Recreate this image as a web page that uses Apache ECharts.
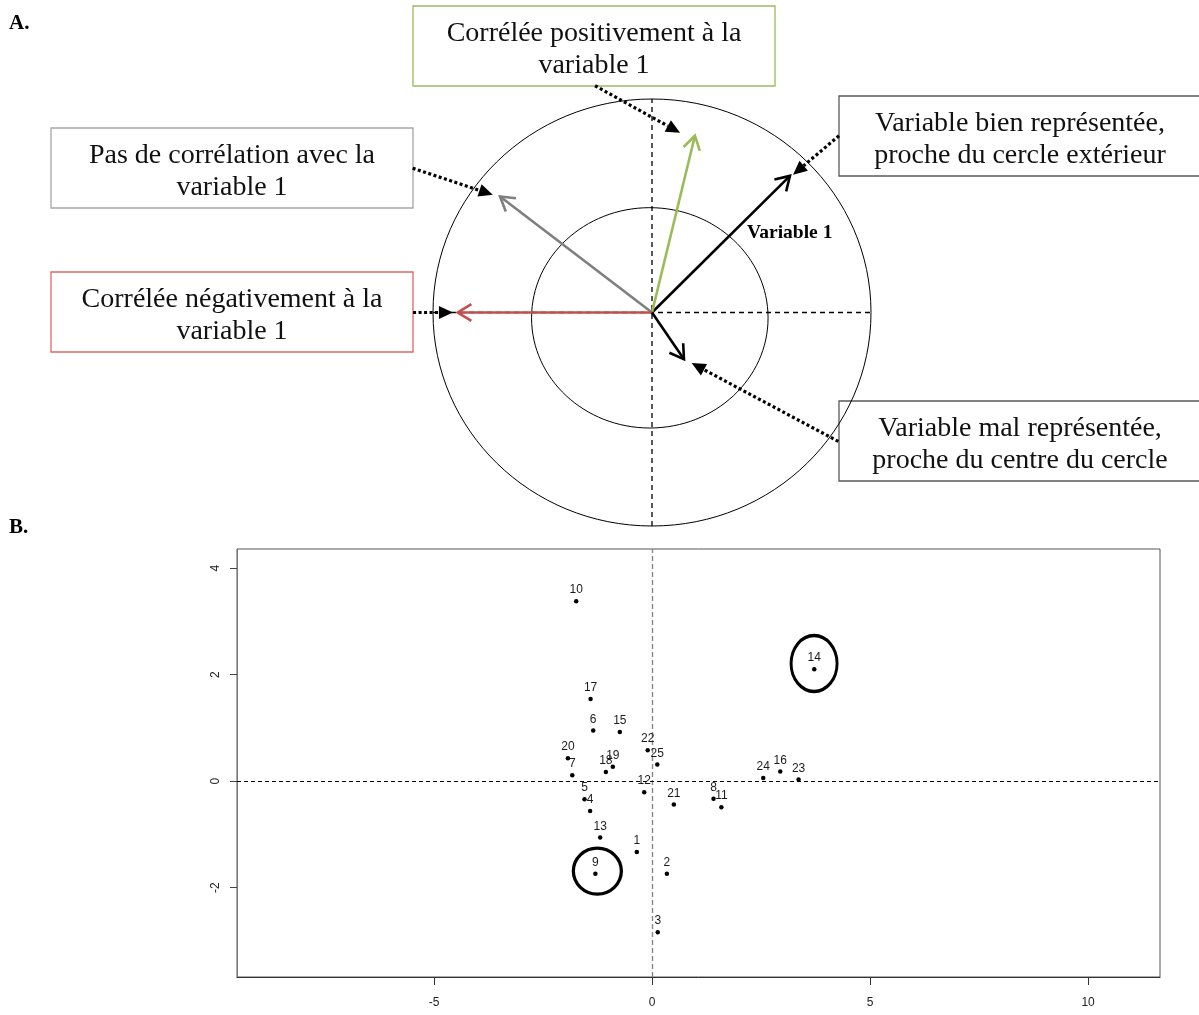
<!DOCTYPE html>
<html>
<head>
<meta charset="utf-8">
<script src="https://cdn.jsdelivr.net/npm/echarts@6/dist/echarts.min.js"></script>
<style>
html,body{margin:0;padding:0;background:#fff;}
#chart{width:1199px;height:1015px;}
</style>
</head>
<body>
<div id="chart"></div>
<script>
// ---------- Panel A: correlation circle (units: correlation) ----------
const circleCx = [0, -0.01];
const circleCy = [0, -0.025];
const circleRx = [1, 0.54];
const circleRy = [1, 0.516];

const vectorNames = ['Variable 1', 'positive', 'none', 'negative', 'poor'];
const vectorX = [0.63, 0.196, -0.694, -0.887, 0.146];
const vectorY = [0.64, 0.828, 0.543, 0.0, -0.219];

const pointerFromX = [-0.26, -1.093, -1.091, 0.854, 0.851];
const pointerFromY = [1.062, 0.676, 0.0, 0.828, -0.604];
const pointerToX = [0.128, -0.727, -0.909, 0.644, 0.181];
const pointerToY = [0.842, 0.551, 0.0, 0.645, -0.237];

const boxTexts = [
  'Corrélée positivement à la\nvariable 1',
  'Pas de corrélation avec la\nvariable 1',
  'Corrélée négativement à la\nvariable 1',
  'Variable bien représentée,\nproche du cercle extérieur',
  'Variable mal représentée,\nproche du centre du cercle'
];

// ---------- Panel B: individuals ----------
const obsLabels = ['1','2','3','4','5','6','7','8','9','10','11','12','13','14','15','16','17','18','19','20','21','22','23','24','25'];
const obsX = [-0.35, 0.34, 0.13, -1.42, -1.55, -1.35, -1.83, 1.41, -1.30, -1.74, 1.59, -0.18, -1.19, 3.72, -0.74, 2.94, -1.41, -1.06, -0.90, -1.93, 0.50, -0.10, 3.36, 2.55, 0.12];
const obsY = [-1.33, -1.74, -2.84, -0.56, -0.34, 0.95, 0.11, -0.33, -1.74, 3.38, -0.49, -0.21, -1.06, 2.10, 0.92, 0.18, 1.54, 0.17, 0.27, 0.43, -0.44, 0.58, 0.03, 0.06, 0.31];
const xTicks = [-5, 0, 5, 10];
const yTicks = [-2, 0, 2, 4];
const highlightX = [-1.255, 3.716];
const highlightY = [-1.69, 2.21];

// ---------- styles ----------
const vectorColors = ['#000000', '#9bbb59', '#7f7f7f', '#c0504d', '#000000'];
const boxStroke = ['#9bbb59', '#a6a6a6', '#e06666', '#595959', '#595959'];
const boxLayout = [
  {x: 413, y: 6, w: 362, h: 80},
  {x: 51, y: 128, w: 362, h: 80},
  {x: 51, y: 272, w: 362, h: 80},
  {x: 839, y: 96, w: 364, h: 80},
  {x: 839, y: 401, w: 364, h: 80}
];
const serif = '"Liberation Serif", "Times New Roman", serif';
const sans = '"Liberation Sans", Arial, sans-serif';

const chart = echarts.init(document.getElementById('chart'), null, {renderer: 'canvas'});

const graphics = [];
boxTexts.forEach((t, i) => {
  const b = boxLayout[i];
  graphics.push({
    type: 'group', z: 50,
    children: [
      {type: 'rect', shape: {x: b.x, y: b.y, width: b.w, height: b.h},
        style: {fill: '#fff', stroke: boxStroke[i], lineWidth: 1.3}},
      {type: 'text', x: b.x + b.w / 2 + (i >= 3 ? -1 : 0), y: b.y + b.h / 2 + 4,
        style: {text: t, font: '28px ' + serif, fill: '#111', align: 'center', verticalAlign: 'middle', lineHeight: 32}}
    ]
  });
});
graphics.push({type: 'text', left: 9, top: 13, z: 50, style: {text: 'A.', font: 'bold 21px ' + serif, fill: '#000'}});
graphics.push({type: 'text', left: 9, top: 517, z: 50, style: {text: 'B.', font: 'bold 21px ' + serif, fill: '#000'}});

function arrowHeadOpen(t, o, L, a) {
  const ang = Math.atan2(t[1] - o[1], t[0] - o[0]);
  return [
    [t[0] - L * Math.cos(ang - a), t[1] - L * Math.sin(ang - a)],
    t,
    [t[0] - L * Math.cos(ang + a), t[1] - L * Math.sin(ang + a)]
  ];
}

const option = {
  animation: false,
  backgroundColor: '#fff',
  graphic: graphics,
  grid: [
    {left: 433, top: 99, width: 438, height: 427, show: false},
    {left: 237, top: 549, width: 923, height: 428, show: true, borderColor: '#555', borderWidth: 1, backgroundColor: 'transparent'}
  ],
  xAxis: [
    {gridIndex: 0, type: 'value', min: -1, max: 1, show: false},
    {gridIndex: 1, type: 'value', min: -9.52, max: 11.65,
      axisLine: {show: true, onZero: false, lineStyle: {color: '#333', width: 1}},
      axisTick: {show: true, length: 8, customValues: xTicks, lineStyle: {color: '#333'}},
      axisLabel: {customValues: xTicks, margin: 20, color: '#222', fontSize: 12, fontFamily: sans},
      splitLine: {show: false}}
  ],
  yAxis: [
    {gridIndex: 0, type: 'value', min: -1, max: 1, show: false},
    {gridIndex: 1, type: 'value', min: -3.68, max: 4.36,
      axisLine: {show: true, onZero: false, lineStyle: {color: '#777', width: 1}},
      axisTick: {show: true, length: 7, customValues: yTicks, lineStyle: {color: '#444'}},
      axisLabel: {customValues: yTicks, rotate: 90, margin: 15, color: '#222', fontSize: 12, fontFamily: sans},
      splitLine: {show: false}}
  ],
  series: [
    // circles
    {
      type: 'custom', xAxisIndex: 0, yAxisIndex: 0, z: 2,
      data: circleCx.map((c, i) => [c, circleCy[i], circleRx[i], circleRy[i]]),
      encode: {x: 0, y: 1},
      renderItem(params, api) {
        const c = api.coord([api.value(0), api.value(1)]);
        const s = api.size([api.value(2), api.value(3)]);
        return {type: 'ellipse', shape: {cx: c[0], cy: c[1], rx: s[0], ry: s[1]},
          style: {fill: 'none', stroke: '#000', lineWidth: 1}};
      }
    },
    // dashed axes of the circle
    {
      type: 'custom', xAxisIndex: 0, yAxisIndex: 0, z: 2,
      data: [[0, -1, 0, 1], [-1, 0, 1, 0]],
      encode: {x: 0, y: 1},
      renderItem(params, api) {
        const a = api.coord([api.value(0), api.value(1)]);
        const b = api.coord([api.value(2), api.value(3)]);
        return {type: 'line', shape: {x1: a[0], y1: a[1], x2: b[0], y2: b[1]},
          style: {stroke: '#000', lineWidth: 1.3, lineDash: [5, 4], fill: 'none'}};
      }
    },
    // variable vectors
    {
      type: 'custom', xAxisIndex: 0, yAxisIndex: 0, z: 3,
      data: vectorX.map((x, i) => [x, vectorY[i]]),
      encode: {x: 0, y: 1},
      renderItem(params, api) {
        const o = api.coord([0, 0]);
        const t = api.coord([api.value(0), api.value(1)]);
        const color = vectorColors[params.dataIndex];
        const head = arrowHeadOpen(t, o, 16, 0.55);
        return {type: 'group', children: [
          {type: 'line', shape: {x1: o[0], y1: o[1], x2: t[0], y2: t[1]},
            style: {stroke: color, lineWidth: 2.6, fill: 'none'}},
          {type: 'polyline', shape: {points: head},
            style: {stroke: color, lineWidth: 2.6, fill: 'none', lineJoin: 'miter'}}
        ]};
      }
    },
    // dotted pointers
    {
      type: 'custom', xAxisIndex: 0, yAxisIndex: 0, z: 4,
      data: pointerFromX.map((x, i) => [x, pointerFromY[i], pointerToX[i], pointerToY[i]]),
      encode: {x: 0, y: 1},
      renderItem(params, api) {
        const a = api.coord([api.value(0), api.value(1)]);
        const t = api.coord([api.value(2), api.value(3)]);
        const ang = Math.atan2(t[1] - a[1], t[0] - a[0]);
        const L = 14, W = 6.5;
        const base = [t[0] - L * Math.cos(ang), t[1] - L * Math.sin(ang)];
        const tri = [
          t,
          [base[0] + W * Math.sin(ang), base[1] - W * Math.cos(ang)],
          [base[0] - W * Math.sin(ang), base[1] + W * Math.cos(ang)]
        ];
        return {type: 'group', children: [
          {type: 'line', shape: {x1: a[0], y1: a[1], x2: base[0], y2: base[1]},
            style: {stroke: '#000', lineWidth: 3.2, lineDash: [3, 2.5], fill: 'none'}},
          {type: 'polygon', shape: {points: tri}, style: {fill: '#000', stroke: 'none'}}
        ]};
      }
    },
    // "Variable 1" label attached to its vector
    {
      type: 'custom', xAxisIndex: 0, yAxisIndex: 0, z: 5,
      data: [[vectorX[0], vectorY[0]]],
      encode: {x: 0, y: 1},
      renderItem(params, api) {
        const t = api.coord([api.value(0), api.value(1)]);
        return {type: 'text', x: t[0] - 43, y: t[1] + 57,
          style: {text: vectorNames[0], font: 'bold 19.5px ' + serif, fill: '#000', align: 'left', verticalAlign: 'middle'}};
      }
    },
    // Panel B points
    {
      type: 'scatter', xAxisIndex: 1, yAxisIndex: 1, z: 5,
      symbol: 'circle', symbolSize: 4.5,
      itemStyle: {color: '#000', opacity: 1},
      data: obsX.map((x, i) => ({name: obsLabels[i], value: [x, obsY[i]]})),
      label: {show: true, position: 'top', distance: 3, formatter: p => p.name,
        color: '#1e1a1a', fontSize: 12, fontFamily: sans},
      labelLayout: {hideOverlap: false},
      markLine: {
        silent: true, symbol: 'none', label: {show: false},
        data: [
          {xAxis: 0, lineStyle: {type: [5, 3], color: '#888', width: 1.4, opacity: 1}},
          {yAxis: 0, lineStyle: {type: [4, 3], color: '#000', width: 1, opacity: 1}}
        ]
      }
    },
    // highlight rings
    {
      type: 'scatter', xAxisIndex: 1, yAxisIndex: 1, z: 6,
      symbol: 'circle',
      data: highlightX.map((x, i) => ({value: [x, highlightY[i]], symbolSize: i === 0 ? [48, 46] : [46, 56]})),
      itemStyle: {color: 'rgba(0,0,0,0)', borderColor: '#000', borderWidth: 3.2, opacity: 1},
      label: {show: false},
      silent: true
    }
  ]
};
chart.setOption(option);
</script>
</body>
</html>
